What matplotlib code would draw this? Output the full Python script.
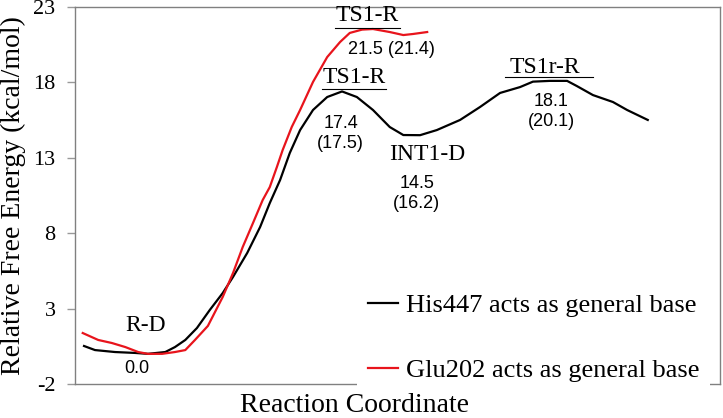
import matplotlib
matplotlib.use("Agg")
import matplotlib.pyplot as plt
import numpy as np

plt.rcParams["axes.unicode_minus"] = False

# reaction coordinate (arbitrary units) and relative free energy (kcal/mol)
his_x = [1.4, 3.1, 6.2, 9.3, 11.3, 14.0, 15.5, 17.1, 18.9, 20.9, 22.9, 24.5, 26.7, 28.7,
         30.2, 31.8, 33.3, 34.9, 36.9, 39.1, 41.4, 43.7, 46.2, 48.8, 50.9, 53.5, 56.1,
         59.7, 62.8, 65.9, 69.0, 71.0, 73.6, 76.3, 77.8, 80.3, 83.4, 85.6, 88.8]
his_e = [0.52, 0.25, 0.12, 0.06, 0.0, 0.12, 0.45, 0.92, 1.71, 2.91, 4.03, 5.10, 6.69, 8.41,
         10.0, 11.53, 13.32, 14.84, 16.17, 17.03, 17.4, 17.03, 16.17, 15.04, 14.51, 14.5, 14.84,
         15.51, 16.37, 17.30, 17.69, 18.05, 18.1, 18.1, 17.76, 17.16, 16.70, 16.17, 15.51]

glu_x = [1.2, 3.6, 5.7, 7.8, 9.8, 11.3, 13.5, 15.5, 17.1, 18.6, 20.6, 22.9, 24.5, 26.0,
         27.6, 29.1, 30.2, 31.3, 32.2, 33.6, 34.9, 36.9, 39.1, 41.1, 42.6, 44.5, 46.2,
         48.8, 50.9, 52.4, 54.6]
glu_e = [1.38, 0.92, 0.72, 0.45, 0.12, 0.0, 0.0, 0.12, 0.25, 0.92, 1.85, 3.77, 5.36, 7.08,
         8.68, 10.20, 11.06, 12.39, 13.52, 15.04, 16.17, 18.03, 19.68, 20.68, 21.28, 21.5, 21.54,
         21.34, 21.14, 21.21, 21.34]

yticks = [-2, 3, 8, 13, 18, 23]

serif = "Liberation Serif"
sans = "Liberation Sans"

fig = plt.figure(figsize=(7.23, 4.18), dpi=100)
ax = fig.add_axes([75/723, 1-384/418, 645/723, 377/418])

ax.plot(his_x, his_e, color="black", lw=1.6, label="His447 acts as general base")
ax.plot(glu_x, glu_e, color="#e8141c", lw=1.6, label="Glu202 acts as general base")

ax.set_xlim(0, 100)
ax.set_ylim(-2, 23)
ax.set_yticks(yticks)
ax.set_xticks([])
ax.tick_params(axis="y", length=6, width=1, color="#999999", pad=8, labelsize=16)
for lab in ax.get_yticklabels():
    lab.set_fontfamily(serif)
for sp in ax.spines.values():
    sp.set_color("#808080")
    sp.set_linewidth(1)

ax.set_ylabel("Relative Free Energy (kcal/mol)", fontsize=20, family=serif, va="center")
ax.yaxis.set_label_coords((13-75)/645, 0.5)
ax.set_xlabel("Reaction Coordinate", fontsize=20, family=serif, va="center")
ax.xaxis.set_label_coords((355-75)/645, (384-406)/377)

# state labels
ax.text(10.9, 1.85, "R-D", family=serif, fontsize=17, ha="center", va="center")
ax.text(9.6, -1.0, "0.0", family=sans, fontsize=13, ha="center", va="center")

ax.text(45.3, 22.45, "TS1-R", family=serif, fontsize=17, ha="center", va="center")
ax.plot([40.3, 50.4], [21.61, 21.61], color="black", lw=0.8)
ax.text(49.0, 20.21, "21.5 (21.4)", family=sans, fontsize=13, ha="center", va="center")

ax.text(43.3, 18.3, "TS1-R", family=serif, fontsize=17, ha="center", va="center")
ax.plot([38.3, 48.2], [17.56, 17.56], color="black", lw=0.8)
ax.text(41.2, 14.61, "17.4\n(17.5)", family=sans, fontsize=13, ha="center", va="center",
        linespacing=1.25)

ax.text(54.6, 13.25, "INT1-D", family=serif, fontsize=17, ha="center", va="center")
ax.text(53.0, 10.63, "14.5\n(16.2)", family=sans, fontsize=13, ha="center", va="center",
        linespacing=1.25)

ax.text(72.9, 19.02, "TS1r-R", family=serif, fontsize=17, ha="center", va="center")
ax.plot([66.7, 80.3], [18.36, 18.36], color="black", lw=0.8)
ax.text(73.8, 16.07, "18.1\n(20.1)", family=sans, fontsize=13, ha="center", va="center",
        linespacing=1.25)

leg = ax.legend(loc="lower left", bbox_to_anchor=((357-75)/645, -0.024), borderaxespad=0,
                prop={"family": serif, "size": 19}, handlelength=1.14, handletextpad=0.3,
                labelspacing=1.6, frameon=True, fancybox=False, framealpha=1,
                edgecolor="none", facecolor="white")

fig.savefig("out.png", dpi=100)
